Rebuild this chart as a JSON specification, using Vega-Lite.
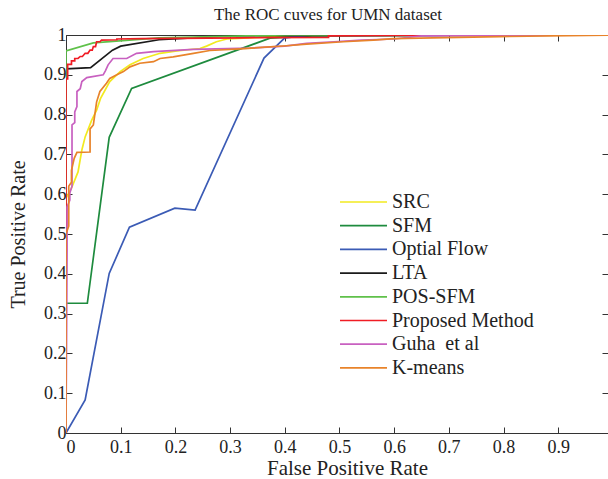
{
  "$schema": "https://vega.github.io/schema/vega-lite/v6.json",
  "width": 542,
  "height": 398,
  "autosize": {"type": "none"},
  "padding": {"left": 66, "top": 35, "right": 0, "bottom": 46},
  "background": "white",
  "title": {"text": "The ROC cuves for UMN dataset", "font": "Liberation Serif", "fontSize": 17, "fontWeight": "normal", "color": "#222", "offset": 2, "dx": -9},
  "config": {"view": {"stroke": null}, "font": "Liberation Serif"},
  "data": {"values": [
    {"s":"SRC","i":0,"x":0,"y":0},{"s":"SRC","i":1,"x":0,"y":0.59},{"s":"SRC","i":2,"x":0.01,"y":0.615},{"s":"SRC","i":3,"x":0.022,"y":0.656},{"s":"SRC","i":4,"x":0.029,"y":0.711},{"s":"SRC","i":5,"x":0.035,"y":0.744},{"s":"SRC","i":6,"x":0.047,"y":0.786},{"s":"SRC","i":7,"x":0.056,"y":0.811},{"s":"SRC","i":8,"x":0.063,"y":0.84},{"s":"SRC","i":9,"x":0.08,"y":0.883},{"s":"SRC","i":10,"x":0.099,"y":0.908},{"s":"SRC","i":11,"x":0.117,"y":0.925},{"s":"SRC","i":12,"x":0.141,"y":0.941},{"s":"SRC","i":13,"x":0.172,"y":0.954},{"s":"SRC","i":14,"x":0.203,"y":0.96},{"s":"SRC","i":15,"x":0.245,"y":0.966},{"s":"SRC","i":16,"x":0.257,"y":0.972},{"s":"SRC","i":17,"x":0.275,"y":0.983},{"s":"SRC","i":18,"x":0.294,"y":0.99},{"s":"SRC","i":19,"x":0.335,"y":0.993},{"s":"SRC","i":20,"x":0.4,"y":0.997},{"s":"SRC","i":21,"x":0.5,"y":1},{"s":"SRC","i":22,"x":1,"y":1},
    {"s":"SFM","i":0,"x":0,"y":0},{"s":"SFM","i":1,"x":0,"y":0.326},{"s":"SFM","i":2,"x":0.039,"y":0.326},{"s":"SFM","i":3,"x":0.079,"y":0.743},{"s":"SFM","i":4,"x":0.12,"y":0.866},{"s":"SFM","i":5,"x":0.373,"y":0.992},{"s":"SFM","i":6,"x":0.45,"y":0.998},{"s":"SFM","i":7,"x":1,"y":1},
    {"s":"Optial Flow","i":0,"x":0,"y":0},{"s":"Optial Flow","i":1,"x":0.035,"y":0.083},{"s":"Optial Flow","i":2,"x":0.079,"y":0.401},{"s":"Optial Flow","i":3,"x":0.116,"y":0.517},{"s":"Optial Flow","i":4,"x":0.199,"y":0.565},{"s":"Optial Flow","i":5,"x":0.236,"y":0.56},{"s":"Optial Flow","i":6,"x":0.362,"y":0.942},{"s":"Optial Flow","i":7,"x":0.4,"y":0.993},{"s":"Optial Flow","i":8,"x":0.45,"y":1},{"s":"Optial Flow","i":9,"x":1,"y":1},
    {"s":"LTA","i":0,"x":0,"y":0},{"s":"LTA","i":1,"x":0,"y":0.915},{"s":"LTA","i":2,"x":0.045,"y":0.918},{"s":"LTA","i":3,"x":0.085,"y":0.962},{"s":"LTA","i":4,"x":0.1,"y":0.972},{"s":"LTA","i":5,"x":0.17,"y":0.988},{"s":"LTA","i":6,"x":0.3,"y":0.998},{"s":"LTA","i":7,"x":1,"y":1},
    {"s":"POS-SFM","i":0,"x":0,"y":0},{"s":"POS-SFM","i":1,"x":0,"y":0.96},{"s":"POS-SFM","i":2,"x":0.05,"y":0.98},{"s":"POS-SFM","i":3,"x":0.17,"y":0.993},{"s":"POS-SFM","i":4,"x":0.4,"y":1},{"s":"POS-SFM","i":5,"x":1,"y":1},
    {"s":"Proposed Method","i":0,"x":0,"y":0},{"s":"Proposed Method","i":1,"x":0,"y":0.89},{"s":"Proposed Method","i":2,"x":0.003,"y":0.89},{"s":"Proposed Method","i":3,"x":0.003,"y":0.926},{"s":"Proposed Method","i":4,"x":0.01,"y":0.926},{"s":"Proposed Method","i":5,"x":0.01,"y":0.935},{"s":"Proposed Method","i":6,"x":0.016,"y":0.935},{"s":"Proposed Method","i":7,"x":0.016,"y":0.941},{"s":"Proposed Method","i":8,"x":0.022,"y":0.941},{"s":"Proposed Method","i":9,"x":0.026,"y":0.946},{"s":"Proposed Method","i":10,"x":0.03,"y":0.946},{"s":"Proposed Method","i":11,"x":0.035,"y":0.954},{"s":"Proposed Method","i":12,"x":0.04,"y":0.954},{"s":"Proposed Method","i":13,"x":0.044,"y":0.962},{"s":"Proposed Method","i":14,"x":0.048,"y":0.962},{"s":"Proposed Method","i":15,"x":0.05,"y":0.971},{"s":"Proposed Method","i":16,"x":0.054,"y":0.971},{"s":"Proposed Method","i":17,"x":0.056,"y":0.983},{"s":"Proposed Method","i":18,"x":0.062,"y":0.983},{"s":"Proposed Method","i":19,"x":0.065,"y":0.987},{"s":"Proposed Method","i":20,"x":0.093,"y":0.988},{"s":"Proposed Method","i":21,"x":0.093,"y":0.99},{"s":"Proposed Method","i":22,"x":0.14,"y":0.991},{"s":"Proposed Method","i":23,"x":0.32,"y":0.993},{"s":"Proposed Method","i":24,"x":0.48,"y":0.994},{"s":"Proposed Method","i":25,"x":0.48,"y":0.998},{"s":"Proposed Method","i":26,"x":0.7,"y":1},{"s":"Proposed Method","i":27,"x":1,"y":1},
    {"s":"Guha \u00a0et al","i":0,"x":0,"y":0},{"s":"Guha \u00a0et al","i":1,"x":0.002,"y":0.46},{"s":"Guha \u00a0et al","i":2,"x":0.002,"y":0.568},{"s":"Guha \u00a0et al","i":3,"x":0.007,"y":0.585},{"s":"Guha \u00a0et al","i":4,"x":0.007,"y":0.603},{"s":"Guha \u00a0et al","i":5,"x":0.011,"y":0.62},{"s":"Guha \u00a0et al","i":6,"x":0.011,"y":0.774},{"s":"Guha \u00a0et al","i":7,"x":0.016,"y":0.78},{"s":"Guha \u00a0et al","i":8,"x":0.016,"y":0.807},{"s":"Guha \u00a0et al","i":9,"x":0.02,"y":0.82},{"s":"Guha \u00a0et al","i":10,"x":0.02,"y":0.858},{"s":"Guha \u00a0et al","i":11,"x":0.026,"y":0.865},{"s":"Guha \u00a0et al","i":12,"x":0.029,"y":0.883},{"s":"Guha \u00a0et al","i":13,"x":0.038,"y":0.893},{"s":"Guha \u00a0et al","i":14,"x":0.068,"y":0.9},{"s":"Guha \u00a0et al","i":15,"x":0.072,"y":0.91},{"s":"Guha \u00a0et al","i":16,"x":0.077,"y":0.925},{"s":"Guha \u00a0et al","i":17,"x":0.086,"y":0.941},{"s":"Guha \u00a0et al","i":18,"x":0.111,"y":0.941},{"s":"Guha \u00a0et al","i":19,"x":0.129,"y":0.954},{"s":"Guha \u00a0et al","i":20,"x":0.16,"y":0.958},{"s":"Guha \u00a0et al","i":21,"x":0.233,"y":0.964},{"s":"Guha \u00a0et al","i":22,"x":0.336,"y":0.967},{"s":"Guha \u00a0et al","i":23,"x":0.4,"y":0.972},{"s":"Guha \u00a0et al","i":24,"x":0.44,"y":0.979},{"s":"Guha \u00a0et al","i":25,"x":0.49,"y":0.983},{"s":"Guha \u00a0et al","i":26,"x":0.54,"y":0.987},{"s":"Guha \u00a0et al","i":27,"x":0.6,"y":0.99},{"s":"Guha \u00a0et al","i":28,"x":0.65,"y":0.998},{"s":"Guha \u00a0et al","i":29,"x":1,"y":1},
    {"s":"K-means","i":0,"x":0,"y":0},{"s":"K-means","i":1,"x":0,"y":0.5},{"s":"K-means","i":2,"x":0.005,"y":0.52},{"s":"K-means","i":3,"x":0.005,"y":0.62},{"s":"K-means","i":4,"x":0.01,"y":0.63},{"s":"K-means","i":5,"x":0.01,"y":0.66},{"s":"K-means","i":6,"x":0.015,"y":0.69},{"s":"K-means","i":7,"x":0.02,"y":0.705},{"s":"K-means","i":8,"x":0.044,"y":0.706},{"s":"K-means","i":9,"x":0.044,"y":0.764},{"s":"K-means","i":10,"x":0.05,"y":0.774},{"s":"K-means","i":11,"x":0.056,"y":0.832},{"s":"K-means","i":12,"x":0.062,"y":0.858},{"s":"K-means","i":13,"x":0.074,"y":0.879},{"s":"K-means","i":14,"x":0.08,"y":0.891},{"s":"K-means","i":15,"x":0.093,"y":0.9},{"s":"K-means","i":16,"x":0.105,"y":0.908},{"s":"K-means","i":17,"x":0.117,"y":0.92},{"s":"K-means","i":18,"x":0.135,"y":0.929},{"s":"K-means","i":19,"x":0.16,"y":0.933},{"s":"K-means","i":20,"x":0.172,"y":0.941},{"s":"K-means","i":21,"x":0.196,"y":0.945},{"s":"K-means","i":22,"x":0.233,"y":0.954},{"s":"K-means","i":23,"x":0.263,"y":0.961},{"s":"K-means","i":24,"x":0.318,"y":0.965},{"s":"K-means","i":25,"x":0.403,"y":0.973},{"s":"K-means","i":26,"x":0.44,"y":0.977},{"s":"K-means","i":27,"x":0.507,"y":0.983},{"s":"K-means","i":28,"x":0.562,"y":0.987},{"s":"K-means","i":29,"x":0.598,"y":0.991},{"s":"K-means","i":30,"x":0.793,"y":0.996},{"s":"K-means","i":31,"x":1,"y":1}
  ]},
  "resolve": {"axis": {"x": "independent", "y": "independent"}},
  "layer": [
    {
      "mark": {"type": "line", "clip": true, "strokeWidth": 1.7},
      "encoding": {
        "x": {"field": "x", "type": "quantitative", "scale": {"domain": [0, 0.991], "nice": false, "zero": false},
          "axis": {"orient": "bottom", "values": [0,0.1,0.2,0.3,0.4,0.5,0.6,0.7,0.8,0.9], "format": "~g", "grid": false, "tickSize": -6, "labelPadding": 11, "labelFont": "Liberation Serif", "labelFontSize": 18, "labelColor": "#222", "domainColor": "#333", "tickColor": "#333", "title": "False Positive Rate", "titleFont": "Liberation Serif", "titleFontSize": 21, "titleFontWeight": "normal", "titleColor": "#222", "titlePadding": 1, "titleX": 281}},
        "y": {"field": "y", "type": "quantitative", "scale": {"domain": [0, 1], "nice": false},
          "axis": {"orient": "left", "values": [0,0.1,0.2,0.3,0.4,0.5,0.6,0.7,0.8,0.9,1], "format": "~g", "grid": false, "tickSize": -6, "labelPadding": 6, "labelFont": "Liberation Serif", "labelFontSize": 18, "labelColor": "#222", "domainColor": "#333", "tickColor": "#333", "title": "True Positive Rate", "titleFont": "Liberation Serif", "titleFontSize": 20, "titleFontWeight": "normal", "titleColor": "#222", "titlePadding": 15}},
        "color": {"field": "s", "type": "nominal",
          "scale": {"domain": ["SRC","SFM","Optial Flow","LTA","POS-SFM","Proposed Method","Guha \u00a0et al","K-means"], "range": ["#f2ea1f","#1e8b3e","#3b5bb5","#1a1a1a","#5fc14a","#f01c24","#c860c0","#e8832a"]},
          "legend": {"orient": "none", "legendX": 269, "legendY": 157, "title": null, "padding": 0, "symbolType": "M-1,0H8.4", "symbolSize": 100, "symbolStrokeWidth": 1.7, "symbolFillColor": "transparent", "labelFont": "Liberation Serif", "labelFontSize": 20, "labelColor": "#222", "labelOffset": 37, "rowPadding": 3.7}},
        "order": {"field": "i", "type": "quantitative"}
      }
    },
    {
      "mark": {"type": "point", "opacity": 0},
      "encoding": {
        "x": {"field": "x", "type": "quantitative",
          "axis": {"orient": "top", "values": [0,0.1,0.2,0.3,0.4,0.5,0.6,0.7,0.8,0.9], "labels": false, "grid": false, "tickSize": -6, "domainColor": "#333", "tickColor": "#333", "title": null}},
        "y": {"field": "y", "type": "quantitative",
          "axis": {"orient": "right", "values": [0,0.1,0.2,0.3,0.4,0.5,0.6,0.7,0.8,0.9,1], "labels": false, "grid": false, "domain": false, "tickSize": -6, "tickColor": "#333", "title": null}}
      }
    }
  ]
}
